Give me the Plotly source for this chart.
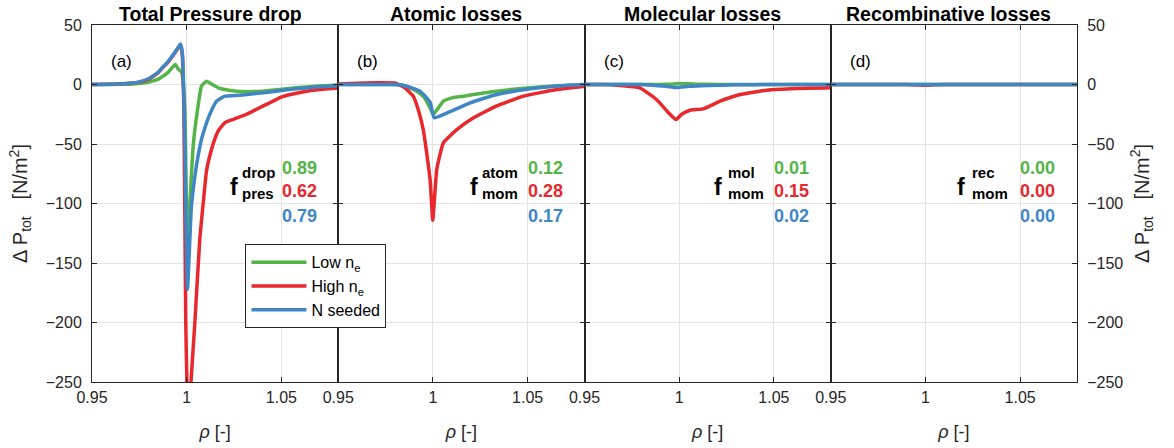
import plotly.graph_objects as go
from plotly.subplots import make_subplots

# ---------------- data ----------------
panel_titles = ["Total Pressure drop", "Atomic losses", "Molecular losses", "Recombinative losses"]
panel_tags = ["(a)", "(b)", "(c)", "(d)"]
series_names = ["Low n<sub>e</sub>", "High n<sub>e</sub>", "N seeded"]
sup_labels = ["drop", "atom", "mol", "rec"]
sub_labels = ["pres", "mom", "mom", "mom"]
frac_low = [0.89, 0.12, 0.01, 0.00]
frac_high = [0.62, 0.28, 0.15, 0.00]
frac_seed = [0.79, 0.17, 0.02, 0.00]

# (a) total pressure drop
rho_a_low = [0.95, 0.96, 0.97, 0.975, 0.98, 0.985, 0.9875, 0.99, 0.9925, 0.994, 0.9955, 0.9973, 0.999,
             1.0003, 1.0016, 1.0035, 1.006, 1.0078, 1.0105, 1.0135, 1.017, 1.0201, 1.0263, 1.032, 1.0402,
             1.05, 1.058, 1.068, 1.08]
dp_a_low = [0, 0.1, 0.3, 0.8, 2, 4.5, 7, 10, 14.5, 16.8, 13, 10, -20,
            -145, -102, -50, -18, -1.4, 2.8, 0, -3, -4.2, -5.6, -6, -5.6,
            -4, -2.8, -1.5, -0.5]
rho_a_high = [0.95, 0.96, 0.97, 0.975, 0.98, 0.985, 0.9875, 0.99, 0.9928, 0.995, 0.9965, 0.9975, 0.9985,
              0.9995, 1.0008, 1.0022, 1.0043, 1.0069, 1.009, 1.0105, 1.013, 1.015, 1.017, 1.0202, 1.025,
              1.0316, 1.036, 1.0404, 1.045, 1.0492, 1.056, 1.0633, 1.072, 1.08]
dp_a_high = [0, 0.3, 1, 2, 4.5, 10, 14.5, 18.5, 24.5, 29.5, 33, 28, -20,
             -200, -290, -251, -200, -130, -95, -72, -55, -45, -38, -32, -29,
             -25, -21.5, -18, -14.5, -11, -8, -5.6, -4, -3]
rho_a_seed = [0.95, 0.96, 0.97, 0.975, 0.98, 0.985, 0.9875, 0.99, 0.9928, 0.995, 0.9967, 0.9978, 0.999,
              1.0004, 1.0025, 1.0045, 1.006, 1.008, 1.0105, 1.013, 1.0158, 1.0201, 1.028, 1.0404, 1.05,
              1.058, 1.068, 1.08]
dp_a_seed = [0, 0.3, 1, 2.2, 5, 10.5, 15, 19, 25, 30, 34, 25, -50,
             -172, -102, -75, -60, -45, -32, -22, -14, -9.8, -9, -7, -5,
             -3.6, -2.2, -1]

# (b) atomic losses
rho_b_low = [0.95, 0.97, 0.98, 0.985, 0.9914, 0.9955, 0.9985, 1.0002, 1.0055, 1.0105, 1.0161, 1.025,
             1.0337, 1.0425, 1.0513, 1.065, 1.08]
dp_b_low = [0, 0, 0, -1, -5.6, -11, -19.6, -25, -14, -11, -9.8, -7.5,
            -5.6, -4, -2.8, -1.2, 0]
rho_b_high = [0.95, 0.96, 0.97, 0.98, 0.985, 0.9896, 0.992, 0.9949, 0.9985, 0.9999, 1.002, 1.0055,
              1.0126, 1.0214, 1.0337, 1.0478, 1.0654, 1.08]
dp_b_high = [0.5, 1, 1.5, 1.2, -2.5, -9.8, -20, -38, -80, -114, -71.5, -49,
             -38, -28, -18, -9.8, -4.2, -1.4]
rho_b_seed = [0.95, 0.97, 0.98, 0.985, 0.9932, 0.9985, 1.0006, 1.0073, 1.0196, 1.0337, 1.0513, 1.067,
              1.08]
dp_b_seed = [0, 0, 0, -1, -5.6, -15, -28, -24, -15.4, -8.4, -3.6, -1, 0]

# (c) molecular losses
rho_c_low = [0.95, 0.98, 0.99, 0.995, 1.0, 1.005, 1.01, 1.02, 1.05, 1.08]
dp_c_low = [0, 0, 0, 0.3, 0.8, 0.6, 0.3, 0.1, 0, 0]
rho_c_high = [0.95, 0.96, 0.9686, 0.9792, 0.988, 0.9951, 0.9983, 1.0013, 1.0057, 1.0127, 1.0216,
              1.0322, 1.0463, 1.0622, 1.08]
dp_c_high = [0, 0, -0.8, -2.8, -12.6, -25, -29.5, -25, -21.6, -20.5, -14,
             -8.4, -4.8, -3.4, -2.8]
rho_c_seed = [0.95, 0.98, 0.985, 0.993, 0.999, 1.005, 1.015, 1.03, 1.05, 1.08]
dp_c_seed = [0, 0, -0.5, -1.5, -2.5, -1.5, -0.8, -0.3, 0, 0]

# (d) recombinative losses
rho_d_low = [0.95, 1.0, 1.08]
dp_d_low = [0, 0, 0]
rho_d_high = [0.95, 0.99, 1.0, 1.01, 1.08]
dp_d_high = [0, 0, -0.6, 0, 0]
rho_d_seed = [0.95, 1.0, 1.08]
dp_d_seed = [0, 0, 0]

y_ticks = [-250, -200, -150, -100, -50, 0, 50]
x_ticks = [0.95, 1, 1.05]
x_tick_text = ["0.95", "1", "1.05"]

# ---------------- styling ----------------
colors = ["#55B448", "#E8282D", "#3F86C6"]
FONT = "Arial, Liberation Sans, Helvetica, sans-serif"
AX = "#262626"
GRID = "#e3e3e3"

panels = [
    [(rho_a_low, dp_a_low), (rho_a_high, dp_a_high), (rho_a_seed, dp_a_seed)],
    [(rho_b_low, dp_b_low), (rho_b_high, dp_b_high), (rho_b_seed, dp_b_seed)],
    [(rho_c_low, dp_c_low), (rho_c_high, dp_c_high), (rho_c_seed, dp_c_seed)],
    [(rho_d_low, dp_d_low), (rho_d_high, dp_d_high), (rho_d_seed, dp_d_seed)],
]

fig = make_subplots(rows=1, cols=4, horizontal_spacing=0, shared_yaxes=False)

for p, series in enumerate(panels):
    for s, (xs, ys) in enumerate(series):
        fig.add_trace(go.Scatter(x=xs, y=ys, mode="lines", name=series_names[s],
                                 line=dict(color=colors[s], width=3.5, shape="spline", smoothing=0.4),
                                 showlegend=(p == 0)), row=1, col=p + 1)

for p in range(4):
    fig.update_xaxes(range=[0.95, 1.08], tickvals=x_ticks, ticktext=x_tick_text, automargin=False,
                     ticks="inside", ticklen=5, tickcolor=AX, showline=True, linecolor=AX, linewidth=1,
                     mirror="ticks", showgrid=True, gridcolor=GRID, gridwidth=1, zeroline=False,
                     tickfont=dict(family=FONT, size=16, color=AX), ticklabelstandoff=1,
                     title=dict(text="<i>ρ</i> [-]", font=dict(family=FONT, size=18, color=AX), standoff=20),
                     row=1, col=p + 1)
    fig.update_yaxes(range=[-250, 50], tickvals=y_ticks, automargin=False,
                     ticks="inside", ticklen=5, tickcolor=AX, showline=True, linecolor=AX, linewidth=1,
                     mirror="ticks", showgrid=True, gridcolor=GRID, gridwidth=1, zeroline=False,
                     tickfont=dict(family=FONT, size=16, color=AX),
                     showticklabels=(p in (0, 3)), ticklabelstandoff=6,
                     row=1, col=p + 1)

ytitle = "Δ P<sub>tot</sub>\u00a0\u00a0\u00a0[N/m<sup>2</sup>]"
fig.update_yaxes(title=dict(text=ytitle, font=dict(family=FONT, size=20, color=AX), standoff=12), row=1, col=1)
fig.update_yaxes(side="right",
                 title=dict(text=ytitle, font=dict(family=FONT, size=20, color=AX), standoff=12), row=1, col=4)

# annotations
f_x = [1.0249, 1.0217, 1.0205, 1.0187]
lab_x = [1.0282, 1.0249, 1.0249, 1.0236]
ann = []
for p in range(4):
    xr = "x" if p == 0 else f"x{p+1}"
    yr = "y" if p == 0 else f"y{p+1}"
    ann.append(dict(text=f"<b>{panel_titles[p]}</b>", xref=f"{xr} domain", yref="paper", x=0.48, y=1.03,
                    xanchor="center", yanchor="middle", showarrow=False,
                    font=dict(family=FONT, size=19.5, color="black")))
    ann.append(dict(text=panel_tags[p], xref=xr, yref=yr, x=0.9655, y=19.5, xanchor="center", yanchor="middle",
                    showarrow=False, font=dict(family=FONT, size=17, color="black")))
    ann.append(dict(text="<b>f</b>", xref=xr, yref=yr, x=f_x[p], y=-86, xanchor="center", yanchor="middle",
                    showarrow=False, font=dict(family=FONT, size=23, color="black")))
    ann.append(dict(text=f"<b>{sup_labels[p]}</b>", xref=xr, yref=yr, x=lab_x[p], y=-74, xanchor="left",
                    yanchor="middle", showarrow=False, font=dict(family=FONT, size=15, color="black")))
    ann.append(dict(text=f"<b>{sub_labels[p]}</b>", xref=xr, yref=yr, x=lab_x[p], y=-91.5, xanchor="left",
                    yanchor="middle", showarrow=False, font=dict(family=FONT, size=15, color="black")))
    for s, (vals, yv) in enumerate([(frac_low, -70), (frac_high, -89.6), (frac_seed, -110.3)]):
        ann.append(dict(text=f"<b>{vals[p]:.2f}</b>", xref=xr, yref=yr, x=1.049, y=yv, xanchor="left",
                        yanchor="middle", showarrow=False, font=dict(family=FONT, size=18, color=colors[s])))

fig.update_layout(
    width=1174, height=448,
    margin=dict(l=92, r=97, t=25, b=66, autoexpand=False),
    paper_bgcolor="white", plot_bgcolor="white",
    annotations=ann,
    legend=dict(x=0.1558, y=0.3857, xanchor="left", yanchor="top", bgcolor="white",
                bordercolor=AX, borderwidth=1, font=dict(family=FONT, size=16, color="black"),
                itemwidth=55, tracegroupgap=0),
    font=dict(family=FONT),
)

# remove the default 8 px page margin so the figure fills the window exactly
fig.write_html("out.html", config={"displayModeBar": False},
               post_script="document.body.style.margin='0';")
